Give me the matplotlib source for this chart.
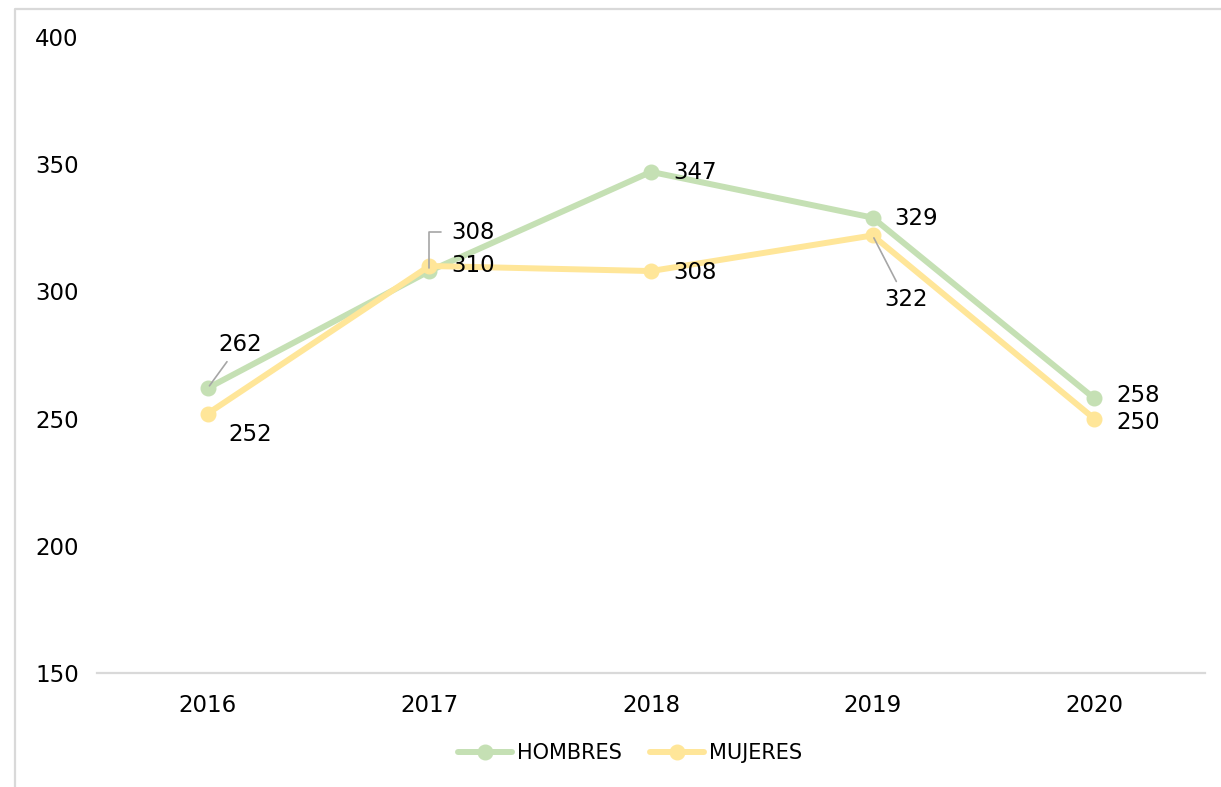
import matplotlib
matplotlib.use("Agg")
import matplotlib.pyplot as plt
from matplotlib.lines import Line2D

years = ["2016", "2017", "2018", "2019", "2020"]
hombres = [262, 308, 347, 329, 258]
mujeres = [252, 310, 308, 322, 250]
y_ticks = [150, 200, 250, 300, 350, 400]

GREEN = "#C5E0B4"
YELLOW = "#FFE699"
LEADER = "#A6A6A6"
FS = 16.5

plt.rcParams["font.family"] = ["DejaVu Sans"]

W, H = 1221, 787
fig = plt.figure(figsize=(W / 100, H / 100), dpi=100)
ax = fig.add_axes([97 / W, 1 - 673 / H, (1205 - 97) / W, (673 - 37) / H])

x = list(range(len(years)))
ax.plot(x, hombres, color=GREEN, lw=4.3, marker="o", ms=10.5, label="HOMBRES",
        solid_capstyle="round", zorder=3)
ax.plot(x, mujeres, color=YELLOW, lw=4.3, marker="o", ms=10.5, label="MUJERES",
        solid_capstyle="round", zorder=4)

ax.set_xlim(-0.5, len(years) - 0.5)
ax.set_ylim(y_ticks[0], y_ticks[-1])
ax.set_xticks(x)
ax.set_xticklabels(years, fontsize=FS)
ax.set_yticks(y_ticks)
ax.set_yticklabels([str(v) for v in y_ticks], fontsize=FS, ha="left")
ax.tick_params(axis="y", length=0, pad=44.6)
ax.tick_params(axis="x", length=0, pad=15)
for s in ("top", "right", "left"):
    ax.spines[s].set_visible(False)
ax.spines["bottom"].set_color("#D9D9D9")
ax.spines["bottom"].set_linewidth(1.6)


def label(vals, i, dx, dy, leader=None):
    kw = dict(xy=(i, vals[i]), xytext=(dx, dy), textcoords="offset pixels",
              fontsize=FS, va="center", ha="center", zorder=6)
    if leader == "straight":
        kw["arrowprops"] = dict(arrowstyle="-", color=LEADER, lw=1.2,
                                shrinkA=3, shrinkB=2)
    elif leader == "elbow":
        kw["arrowprops"] = dict(arrowstyle="-", color=LEADER, lw=1.2,
                                connectionstyle="angle,angleA=0,angleB=90,rad=0",
                                shrinkA=6, shrinkB=2)
    ax.annotate(str(vals[i]), **kw)


label(hombres, 0, 32, 44, "straight")
label(mujeres, 0, 42, -21)
label(hombres, 1, 44, 39, "elbow")
label(mujeres, 1, 44, 0)
label(hombres, 2, 44, -1)
label(mujeres, 2, 44, -1)
label(hombres, 3, 44, -1)
label(mujeres, 3, 33, -64, "straight")
label(hombres, 4, 44, 3)
label(mujeres, 4, 44, -4)

fig.legend(loc="center", bbox_to_anchor=(630 / W, 1 - 753 / H), ncol=2,
           frameon=False, fontsize=15, handlelength=2.6,
           handletextpad=0.25, columnspacing=1.35)

# light frame along the left and top edges
fig.add_artist(Line2D([15 / W, 15 / W, 1], [0, 1 - 9 / H, 1 - 9 / H],
                      transform=fig.transFigure, color="#D9D9D9", lw=1.6))

fig.savefig("out.png", dpi=100)
